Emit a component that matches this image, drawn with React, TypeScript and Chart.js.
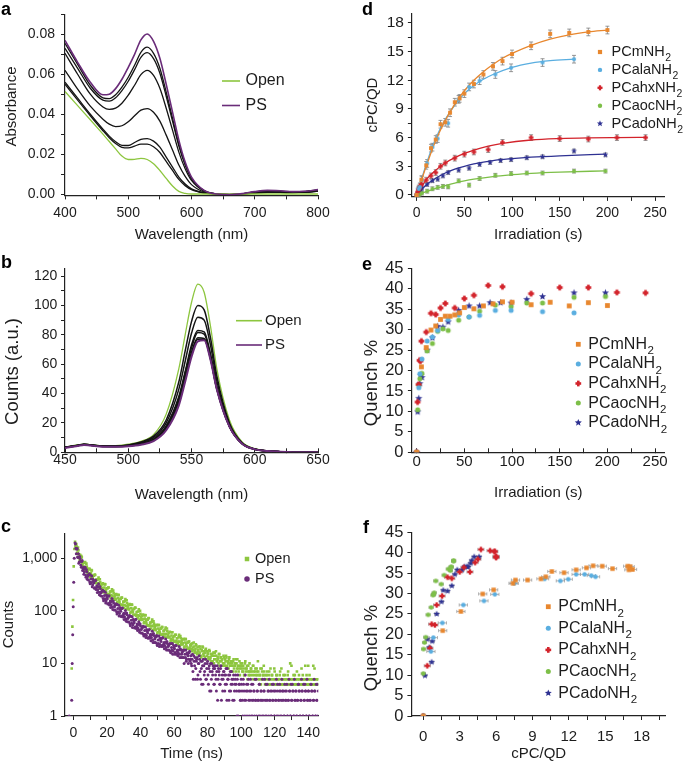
import React, { useEffect, useRef } from 'react';
import { Chart, registerables } from 'chart.js';

Chart.register(...registerables);

const FONT = "'Liberation Sans', Arial, Helvetica, sans-serif";
const TEXT = '#1c1c1c';
const AXIS = '#222222';
const GREEN = '#8dc63f';
const PURPLE = '#6a2c79';
const BLACK = '#141414';
const C_M = '#e8872e';
const C_ALA = '#5aaee0';
const C_AHX = '#d3232b';
const C_AOC = '#7dbf48';
const C_ADO = '#2e3192';
const ERR_GREY = 'rgba(120,120,120,0.85)';

// ---------- panel a : absorbance ----------
const absWavelengths = [400, 420, 440, 460, 470, 480, 490, 500, 510, 520, 530, 540, 550, 560, 570, 580, 590, 600, 620, 640, 660, 680, 700, 720, 740, 760, 780, 800];
const absOpen = [0.0514, 0.0443, 0.0372, 0.03, 0.0263, 0.0226, 0.019, 0.0173, 0.0174, 0.0179, 0.0173, 0.0152, 0.0118, 0.0078, 0.004, 0.0013, 0.0003, 0, 0, 0, 0, 0, 0, 0, 0, 0, 0, 0];
const absPS = [0.077, 0.066, 0.056, 0.0497, 0.05, 0.0528, 0.0575, 0.0635, 0.07, 0.0772, 0.0802, 0.0765, 0.068, 0.055, 0.041, 0.027, 0.016, 0.0085, 0.0018, 0, -0.0003, 0.0002, 0.0012, 0.0018, 0.0016, 0.0012, 0.0014, 0.0022];
const absStep1 = [0.0755, 0.065, 0.0545, 0.0482, 0.0478, 0.0497, 0.0535, 0.0585, 0.0645, 0.071, 0.0736, 0.0705, 0.063, 0.051, 0.038, 0.025, 0.015, 0.008, 0.0017, 0, -0.0003, 0.0001, 0.001, 0.0015, 0.0014, 0.0011, 0.0013, 0.002];
const absStep2 = [0.073, 0.063, 0.053, 0.047, 0.0465, 0.0482, 0.0518, 0.0565, 0.0623, 0.0685, 0.0708, 0.0678, 0.0605, 0.049, 0.0365, 0.024, 0.0145, 0.0077, 0.0016, 0, -0.0003, 0.0001, 0.0009, 0.0014, 0.0013, 0.001, 0.0012, 0.0019];
const absStep3 = [0.0705, 0.06, 0.05, 0.0436, 0.0424, 0.043, 0.0455, 0.0495, 0.0545, 0.0598, 0.062, 0.0595, 0.053, 0.043, 0.032, 0.021, 0.0127, 0.0068, 0.0014, 0, -0.0003, 0, 0.0008, 0.0012, 0.0011, 0.0009, 0.0011, 0.0017];
const absStep4 = [0.062, 0.0525, 0.044, 0.0375, 0.035, 0.0338, 0.0342, 0.0362, 0.0392, 0.042, 0.0428, 0.041, 0.0365, 0.0295, 0.022, 0.0145, 0.0088, 0.0047, 0.001, 0, -0.0003, 0, 0.0006, 0.001, 0.0009, 0.0008, 0.001, 0.0015];
const absStep5 = [0.056, 0.048, 0.04, 0.0325, 0.029, 0.0262, 0.0244, 0.0243, 0.0258, 0.0274, 0.0278, 0.0265, 0.0235, 0.0185, 0.0135, 0.0085, 0.005, 0.0026, 0.0006, 0, -0.0003, 0, 0.0005, 0.0008, 0.0008, 0.0007, 0.0009, 0.0014];
const absStep6 = [0.055, 0.047, 0.0392, 0.0317, 0.0282, 0.0253, 0.0234, 0.0231, 0.024, 0.025, 0.025, 0.0237, 0.0208, 0.0163, 0.0118, 0.0073, 0.0042, 0.0022, 0.0005, 0, -0.0003, 0, 0.0005, 0.0008, 0.0008, 0.0007, 0.0009, 0.0014];

// ---------- panel b : emission ----------
const emWavelengths = [450, 460, 465, 470, 480, 490, 500, 510, 520, 530, 540, 545, 550, 555, 560, 565, 570, 580, 590, 600, 610, 620, 630, 650];
const emOpen = [3.5, 5.0, 5.6, 5.2, 4.5, 4.6, 5.5, 7.5, 12, 26, 57, 80, 102, 114.5, 109, 86, 57, 22, 7, 2.5, 1.0, 0.4, 0.1, 0];
const emStep1 = [3.5, 4.8, 5.5, 5.1, 4.3, 4.3, 5.0, 7.0, 11, 22, 48, 69, 89, 100, 97, 78, 52, 20, 6.5, 2.3, 1.0, 0.4, 0.1, 0];
const emStep2 = [3.4, 4.7, 5.4, 5.0, 4.2, 4.2, 4.8, 6.5, 10, 20, 43, 62, 81, 92, 90, 73, 49, 19, 6.2, 2.2, 0.9, 0.4, 0.1, 0];
const emStep3 = [3.3, 4.6, 5.3, 4.9, 4.1, 4.1, 4.6, 6.0, 9, 18, 38, 55, 73, 83, 82, 67, 45, 18, 6.0, 2.1, 0.9, 0.4, 0.1, 0];
const emStep4 = [3.3, 4.6, 5.3, 4.9, 4.1, 4.0, 4.5, 5.9, 8.8, 17.5, 37, 54, 71, 81.5, 80.5, 66, 44.5, 17.8, 5.9, 2.1, 0.9, 0.4, 0.1, 0];
const emStep5 = [3.2, 4.5, 5.2, 4.8, 4.0, 3.9, 4.4, 5.6, 8.2, 16.5, 35, 51, 68, 78, 77.5, 64, 43, 17.5, 5.8, 2.0, 0.9, 0.4, 0.1, 0];
const emStep6 = [3.2, 4.5, 5.2, 4.8, 4.0, 3.9, 4.3, 5.5, 8.0, 16, 34, 50, 67, 77, 77, 63.5, 43, 17.5, 5.8, 2.0, 0.9, 0.4, 0.1, 0];
const emPS = [3.0, 4.3, 5.0, 4.6, 3.8, 3.7, 4.1, 5.2, 7.6, 15, 32, 48, 65, 75.5, 76.3, 63, 43, 17.5, 5.8, 2.0, 0.9, 0.4, 0.1, 0];

// ---------- panel c : lifetime decay (counts per channel, two interleaved channel sets) ----------
const tcspcStep = 0.5;
const decayStartA = 1;
const tailStartA = 70.5;
const decayStartB = 1.25;
const tailStartB = 70.25;
const openRiseTimes = [-1, -0.6, -0.2, 0.2, 0.6];
const openRise = [8, 50, 160, 700, 1500];
const psRiseTimes = [-2.5, -1, -0.7, -0.4, -0.1, 0.2, 0.5];
const psRise = [1, 2, 10, 35, 120, 350, 1000];
const openDecayA = [
  2050, 1610, 1670, 1260, 1420, 1020, 1165, 880, 1035, 727,
  830, 693, 840, 565, 693, 570, 506, 638, 435, 521,
  582, 416, 471, 355, 480, 336, 394, 336, 430, 273,
  352, 301, 264, 333, 224, 277, 318, 231, 268, 203,
  277, 195, 231, 199, 257, 165, 215, 184, 163, 207,
  140, 174, 199, 146, 169, 129, 177, 126, 150, 129,
  167, 107, 141, 120, 106, 135, 91, 113, 130, 95,
  109, 83, 114, 81, 96, 82, 107, 68, 88, 76,
  67, 85, 58, 71, 82, 59, 68, 52, 72, 51,
  60, 52, 68, 43, 57, 48, 43, 54, 37, 46,
  53, 39, 46, 35, 49, 35, 42, 36, 48, 31,
  41, 35, 31, 40, 27, 34, 39, 28, 33, 26,
  35, 25, 30, 26, 35, 22, 30, 26, 23, 29,
  20, 25, 29, 21, 25, 19, 26, 19, 23,
];
const openDecayB = [
  1700, 1860, 1270, 1600, 1180, 920, 1100, 1100, 776, 834,
  614, 809, 641, 790, 535, 617, 517, 610, 445, 594,
  459, 374, 465, 486, 355, 391, 294, 396, 320, 398,
  274, 320, 271, 322, 237, 322, 253, 210, 266, 278,
  206, 227, 174, 235, 192, 242, 167, 196, 167, 200,
  149, 202, 159, 133, 168, 178, 132, 148, 113, 153,
  125, 159, 110, 128, 109, 130, 96, 131, 103, 85,
  108, 115, 85, 94, 72, 97, 79, 100, 69, 81,
  69, 82, 61, 83, 65, 54, 68, 73, 53, 59,
  46, 62, 51, 63, 44, 51, 44, 53, 39, 54,
  43, 36, 46, 49, 36, 41, 32, 44, 36, 46,
  32, 38, 32, 39, 29, 39, 31, 26, 33, 35,
  27, 30, 23, 32, 26, 33, 23, 28, 24, 29,
  21, 29, 23, 19, 25, 26, 20, 22,
];
const openTailA = [
  19, 24, 18, 21, 17, 23, 16, 20, 17, 15,
  21, 14, 18, 21, 15, 17, 13, 19, 14, 16,
  13, 18, 12, 15, 14, 11, 16, 12, 14, 17,
  11, 13, 10, 15, 11, 13, 12, 9, 14, 10,
  12, 14, 9, 11, 8, 13, 10, 11, 9, 7,
  12, 9, 10, 12, 8, 9, 7, 11, 8, 9,
  10, 7, 8, 6, 11, 8, 9, 7, 6, 10,
  7, 8, 6, 9, 7, 5, 8, 6, 7, 11,
  5, 6, 8, 5, 7, 6, 9, 5, 6, 4,
  7, 5, 6, 4, 8, 5, 6, 4, 5, 7,
  4, 6, 5, 4, 5, 6, 4, 8, 5, 4,
  5, 6, 4, 5, 4, 7, 5, 4, 5, 9,
  4, 5, 4, 6, 5, 4, 5, 4, 6, 5,
  4, 8, 5, 4, 5, 4, 5, 6, 4, 9,
  5, 4, 5, 4, 5, 9, 4, 5, 4, 5,
  4, 5,
];
const openTailB = [
  22, 17, 20, 25, 16, 19, 22, 15, 18, 21,
  16, 19, 13, 17, 20, 14, 16, 18, 12, 17,
  15, 12, 17, 13, 11, 15, 14, 10, 16, 12,
  14, 11, 12, 15, 9, 13, 11, 12, 10, 13,
  9, 11, 13, 8, 10, 12, 9, 11, 7, 10,
  11, 8, 9, 7, 10, 12, 8, 9, 6, 10,
  8, 7, 9, 6, 10, 7, 8, 5, 9, 7,
  6, 8, 7, 5, 9, 6, 7, 5, 8, 6,
  7, 5, 6, 4, 8, 5, 6, 7, 4, 5,
  6, 4, 5, 7, 4, 5, 6, 4, 5, 8,
  5, 4, 6, 5, 4, 5, 7, 4, 5, 4,
  6, 5, 4, 5, 4, 6, 5, 4, 10, 5,
  4, 5, 6, 4, 5, 4, 7, 5, 4, 5,
  4, 5, 4, 6, 5, 4, 9, 5, 4, 5,
  4, 6, 5, 4, 5, 4, 5, 8, 4, 5,
  4, 5,
];
const psDecayA = [
  1950, 1550, 1485, 1056, 1210, 843, 990, 738, 862, 584,
  672, 552, 672, 435, 550, 451, 383, 507, 328, 404,
  458, 314, 364, 267, 374, 253, 299, 251, 328, 201,
  264, 221, 189, 246, 156, 196, 226, 156, 184, 134,
  190, 129, 154, 131, 171, 106, 141, 119, 103, 136,
  87, 111, 128, 89, 106, 78, 110, 76, 90, 77,
  101, 63, 84, 71, 61, 81, 52, 66, 77, 54,
  64, 47, 67, 46, 56, 47, 62, 39, 52, 44,
  38, 51, 33, 42, 49, 34, 41, 30, 43, 30,
  36, 31, 41, 25, 34, 29, 25, 34, 22, 28,
  33, 23, 28, 21, 30, 21, 25, 22, 29, 18,
  24, 21, 18, 24, 16, 20, 24, 17, 20, 15,
  22, 15, 18, 16, 21, 13, 18, 15, 13, 18,
  10, 15, 18, 12, 15, 10, 16, 11, 14,
];
const psDecayB = [
  1870, 1218, 1530, 1026, 803, 1081, 877, 675, 903, 635,
  496, 626, 480, 608, 400, 480, 484, 353, 481, 345,
  285, 400, 340, 274, 381, 276, 223, 288, 225, 289,
  193, 234, 237, 172, 235, 169, 141, 199, 170, 138,
  194, 142, 115, 150, 118, 153, 103, 127, 130, 96,
  132, 96, 80, 115, 98, 80, 113, 83, 68, 89,
  70, 91, 62, 75, 77, 57, 79, 58, 48, 69,
  59, 49, 69, 51, 42, 55, 43, 57, 38, 47,
  48, 36, 50, 36, 31, 44, 38, 31, 44, 33,
  27, 35, 28, 37, 25, 31, 32, 24, 33, 24,
  21, 30, 26, 22, 31, 23, 19, 25, 20, 26,
  18, 22, 23, 17, 24, 18, 15, 22, 19, 16,
  22, 17, 14, 18, 15, 19, 13, 16, 17, 13,
  18, 13, 11, 16, 14, 12, 17, 12,
];
const psTailA = [
  9, 15, 5, 11, 13, 8, 12, 5, 10, 14,
  7, 11, 4, 9, 12, 6, 10, 5, 8, 11,
  4, 9, 7, 3, 10, 6, 8, 4, 9, 5,
  7, 2, 8, 6, 4, 9, 5, 3, 7, 6,
  4, 8, 2, 5, 6, 3, 7, 4, 5, 2,
  6, 3, 5, 4, 1, 6, 3, 4, 2, 5,
  3, 1, 4, 2, 6, 3, 1, 4, 2, 3,
  5, 1, 2, 4, 3, 1, 2, 5, 3, 2,
  1, 4, 2, 3, 1, 2, 3, 5, 1, 2,
  4, 3, 1, 2, 3, 1, 4, 2, 3, 1,
  2, 5, 3, 1, 2, 4, 3, 1, 2, 3,
  1, 4, 2, 3, 1, 2, 5, 3, 1, 2,
  4, 3, 1, 2, 3, 1, 2, 4, 3, 1,
  2, 5, 3, 1, 2, 4, 3, 1, 2, 3,
  1, 2, 4, 3, 1, 2, 5, 3, 1, 2,
  4, 3,
];
const psTailB = [
  10, 12, 7, 14, 9, 5, 11, 13, 6, 10,
  12, 5, 8, 11, 4, 9, 7, 12, 5, 10,
  6, 8, 3, 10, 5, 7, 9, 4, 8, 6,
  3, 9, 5, 7, 4, 8, 2, 6, 5, 7,
  3, 6, 4, 8, 5, 2, 6, 3, 7, 4,
  5, 2, 4, 6, 3, 5, 1, 4, 3, 2,
  4, 2, 5, 3, 1, 2, 4, 3, 5, 1,
  2, 3, 4, 1, 2, 3, 5, 2, 1, 3,
  2, 4, 1, 3, 2, 5, 1, 3, 2, 4,
  1, 2, 3, 5, 2, 1, 3, 2, 4, 1,
  3, 2, 1, 4, 2, 3, 1, 2, 5, 3,
  2, 1, 3, 2, 4, 1, 2, 3, 1, 4,
  2, 3, 1, 5, 2, 3, 1, 2, 4, 3,
  1, 2, 3, 1, 4, 2, 3, 1, 5, 2,
  3, 1, 2, 4, 3, 1, 2, 3, 1, 4,
  2, 1,
];
const countsTicks = [1, 10, 100, 1000];

// ---------- panels d, e, f : peptide series ----------
const mTimes = [0, 5, 10, 15, 20, 25, 30, 35, 40, 45, 50, 60, 70, 80, 90, 100, 120, 140, 160, 180, 200];
const mCpc = [0, 1.6, 3.1, 4.9, 5.8, 7.4, 7.6, 8.6, 9.7, 10.1, 10.6, 11.6, 12.6, 13.45, 14.0, 14.75, 15.6, 16.85, 16.95, 17.05, 17.25];
const mQuench = [0, 20.9, 25.6, 29.9, 30.9, 32.5, 33.3, 33.3, 33.6, 34.1, 35.4, 35.1, 35.8, 36.3, 36.8, 36.7, 36.1, 36.7, 35.8, 36.6, 35.9];
const mFitTimes = [0, 10, 20, 30, 40, 50, 60, 70, 80, 90, 100, 120, 140, 160, 180, 200];
const mFit = [0, 3.0, 5.7, 7.8, 9.5, 10.9, 12.0, 12.9, 13.65, 14.3, 14.8, 15.65, 16.3, 16.75, 17.05, 17.25];
const mErrCpc = 0.4;

const alaTimes = [0, 2.2, 3.3, 5.5, 11, 16.5, 22, 33, 44, 55, 66, 82.5, 99, 132, 165];
const alaCpc = [0, 0.63, 0.83, 1.57, 3.3, 5.0, 5.9, 7.5, 10.0, 11.3, 11.95, 12.6, 13.3, 13.85, 14.2];
const alaQuench = [0, 15.8, 19.2, 22.8, 27.2, 28.2, 29.8, 32.5, 33.6, 33.1, 33.5, 34.7, 34.7, 34.4, 34.1];
const alaFitTimes = [0, 10, 20, 30, 40, 50, 60, 70, 80, 100, 120, 140, 165];
const alaFit = [0, 3.2, 5.9, 7.9, 9.4, 10.6, 11.45, 12.1, 12.6, 13.35, 13.8, 14.05, 14.2];
const alaErrCpc = 0.4;

const ahxTimes = [0, 1, 2, 3, 4, 5, 10, 15, 20, 25, 30, 40, 50, 60, 75, 90, 120, 150, 180, 210, 240];
const ahxCpc = [0, 0.33, 0.55, 0.69, 0.96, 1.1, 1.55, 2.0, 2.35, 3.0, 3.35, 3.85, 4.27, 4.5, 4.75, 5.5, 6.0, 5.9, 5.85, 6.0, 6.0];
const ahxQuench = [0, 12.3, 16.6, 22.5, 22.3, 27.2, 29.4, 34.0, 33.7, 35.3, 36.4, 35.3, 37.6, 38.4, 40.8, 40.5, 38.8, 40.3, 40.3, 39.1, 39.0];
const ahxFitTimes = [0, 10, 20, 30, 40, 50, 60, 75, 90, 120, 150, 180, 210, 240];
const ahxFit = [0, 1.6, 2.6, 3.35, 3.9, 4.35, 4.7, 5.1, 5.4, 5.75, 5.9, 5.97, 6.0, 6.02];
const ahxErrCpc = 0.3;

const aocTimes = [0, 1.1, 2.2, 3.3, 5.5, 11, 16.5, 22, 27.5, 33, 44, 55, 66, 82.5, 99, 115.5, 132, 165, 198];
const aocCpc = [0, 0.0, 0.02, 0.1, 0.2, 0.4, 0.65, 0.8, 0.9, 0.85, 1.48, 1.03, 1.72, 2.06, 2.24, 2.3, 2.3, 2.5, 2.5];
const aocQuench = [0, 10.4, 16.4, 18.0, 19.3, 24.8, 26.6, 29.6, 30.2, 29.8, 32.3, 33.1, 34.5, 36.0, 35.6, 36.5, 36.5, 37.9, 38.1];
const aocFitTimes = [0, 10, 20, 30, 40, 50, 60, 80, 100, 120, 150, 198];
const aocFit = [0, 0.35, 0.68, 0.98, 1.25, 1.47, 1.65, 1.93, 2.12, 2.27, 2.4, 2.52];
const aocErrCpc = 0.2;

const adoTimes = [0, 1.1, 2.2, 3.3, 4.4, 5.5, 11, 16.5, 22, 27.5, 33, 44, 55, 66, 77, 88, 99, 115.5, 132, 165, 198];
const adoCpc = [0, 0.14, 0.69, 0.5, 0.33, 0.74, 1.1, 1.5, 1.65, 2.0, 2.35, 2.6, 2.8, 3.2, 3.4, 3.6, 3.7, 3.9, 4.0, 4.6, 4.2];
const adoQuench = [0, 9.9, 13.2, 16.8, 18.8, 18.3, 25.0, 28.0, 30.8, 30.6, 31.9, 34.7, 35.8, 35.8, 36.6, 36.6, 36.5, 37.4, 38.1, 39.0, 39.0];
const adoFitTimes = [0, 10, 20, 30, 40, 50, 60, 80, 100, 120, 150, 198];
const adoFit = [0, 1.05, 1.75, 2.3, 2.7, 3.0, 3.25, 3.6, 3.8, 3.95, 4.1, 4.27];
const adoErrCpc = 0.2;

const seriesNames = ['PCmNH', 'PCalaNH', 'PCahxNH', 'PCaocNH', 'PCadoNH'];

// ---------- helpers ----------
const pairs = (xs: number[], ys: number[]) => ys.map((y, i) => ({ x: xs[i], y }));
const channels = (start: number, ys: number[]) => ys.map((y, i) => ({ x: start + i * tcspcStep, y }));
const isMult = (v: number, m: number) => { const r = v / m; return Math.abs(r - Math.round(r)) < 1e-6; };

function drawMarker(ctx: CanvasRenderingContext2D, kind: string, color: string, cx: number, cy: number, s: number) {
  ctx.fillStyle = color;
  if (kind === 'rect') {
    ctx.fillRect(cx - s / 2, cy - s / 2, s, s);
  } else if (kind === 'circle') {
    ctx.beginPath(); ctx.arc(cx, cy, s / 2, 0, Math.PI * 2); ctx.fill();
  } else if (kind === 'plus') {
    const t = s * 0.45;
    ctx.fillRect(cx - s / 2, cy - t / 2, s, t);
    ctx.fillRect(cx - t / 2, cy - s / 2, t, s);
  } else if (kind === 'star') {
    const R = s * 0.62, r = R * 0.45;
    ctx.beginPath();
    for (let k = 0; k < 10; k++) {
      const rad = k % 2 === 0 ? R : r;
      const a = -Math.PI / 2 + (k * Math.PI) / 5;
      const px = cx + rad * Math.cos(a), py = cy + rad * Math.sin(a);
      if (k === 0) ctx.moveTo(px, py); else ctx.lineTo(px, py);
    }
    ctx.closePath(); ctx.fill();
  }
}

function markerImage(kind: string, color: string, s: number) {
  const c = document.createElement('canvas');
  const n = Math.ceil(s * 1.4) + 2;
  c.width = n; c.height = n;
  const ctx = c.getContext('2d') as CanvasRenderingContext2D;
  drawMarker(ctx, kind, color, n / 2, n / 2, s);
  return c;
}

const errorBarPlugin = {
  id: 'errorBars',
  beforeDatasetsDraw(chart: any) {
    const ctx = chart.ctx;
    chart.data.datasets.forEach((ds: any, i: number) => {
      if (!ds.errX && !ds.errY) return;
      const meta = chart.getDatasetMeta(i);
      ctx.save();
      ctx.strokeStyle = ds.errColor || ERR_GREY;
      ctx.lineWidth = 0.9;
      const cap = ds.errCap || 2;
      ds.data.forEach((p: any, j: number) => {
        if (p.x === 0 && p.y === 0) return;
        const el = meta.data[j];
        if (!el) return;
        ctx.beginPath();
        if (ds.errY) {
          const y1 = chart.scales.y.getPixelForValue(p.y - ds.errY);
          const y2 = chart.scales.y.getPixelForValue(p.y + ds.errY);
          ctx.moveTo(el.x, y1); ctx.lineTo(el.x, y2);
          ctx.moveTo(el.x - cap, y1); ctx.lineTo(el.x + cap, y1);
          ctx.moveTo(el.x - cap, y2); ctx.lineTo(el.x + cap, y2);
        }
        if (ds.errX) {
          const x1 = chart.scales.x.getPixelForValue(p.x - ds.errX);
          const x2 = chart.scales.x.getPixelForValue(p.x + ds.errX);
          ctx.moveTo(x1, el.y); ctx.lineTo(x2, el.y);
          ctx.moveTo(x1, el.y - cap); ctx.lineTo(x1, el.y + cap);
          ctx.moveTo(x2, el.y - cap); ctx.lineTo(x2, el.y + cap);
        }
        ctx.stroke();
      });
      ctx.restore();
    });
  },
};

// legend entries plus free-standing (rotated) axis titles
function legendPlugin(items: any[]) {
  return {
    id: 'panelLegend',
    afterDatasetsDraw(chart: any) {
      const ctx = chart.ctx as CanvasRenderingContext2D;
      ctx.save();
      for (const it of items) {
        if (it.kind === 'vtext') {
          ctx.save();
          ctx.translate(it.x, it.y);
          ctx.rotate(-Math.PI / 2);
          ctx.fillStyle = TEXT;
          ctx.textAlign = 'center';
          ctx.textBaseline = 'middle';
          ctx.font = `${it.font}px ${FONT}`;
          ctx.fillText(it.text, 0, 0);
          ctx.restore();
          continue;
        }
        if (it.kind === 'line') {
          ctx.strokeStyle = it.color; ctx.lineWidth = it.lw || 1.6;
          ctx.beginPath(); ctx.moveTo(it.x, it.y); ctx.lineTo(it.x2, it.y); ctx.stroke();
        } else {
          drawMarker(ctx, it.kind, it.color, it.x, it.y, it.size);
        }
        ctx.fillStyle = TEXT;
        ctx.textBaseline = 'middle';
        ctx.textAlign = 'left';
        ctx.font = `${it.font}px ${FONT}`;
        ctx.fillText(it.text, it.tx, it.y);
        if (it.sub) {
          const w = ctx.measureText(it.text).width;
          ctx.font = `${it.font * 0.72}px ${FONT}`;
          ctx.fillText(it.sub, it.tx + w + 0.5, it.y + it.font * 0.42);
        }
      }
      ctx.restore();
    },
  };
}

function axis(o: any) {
  const horizontal = !!o.horizontal;
  const cfg: any = {
    type: o.type || 'linear',
    position: horizontal ? 'bottom' : 'left',
    min: o.min,
    max: o.max,
    afterFit: (s: any) => { if (horizontal) s.height = o.size; else s.width = o.size; },
    grid: { display: true, drawOnChartArea: false, drawTicks: true, tickLength: o.tickLen ?? 4, color: AXIS, lineWidth: 1 },
    border: { display: true, color: AXIS, width: 1.2 },
    ticks: {
      autoSkip: false, maxRotation: 0, minRotation: 0, includeBounds: false,
      padding: o.tickPad ?? 4, color: TEXT, font: { family: FONT, size: o.tickFont || 14 },
      callback: o.format || ((v: number) => (isMult(v, o.major) ? String(Math.round(v * 1000) / 1000) : '')),
    },
    title: {
      display: !!o.title, text: o.title || '', color: TEXT, font: { family: FONT, size: o.titleFont || 15 },
      padding: horizontal ? { top: 0, bottom: o.titlePad || 0 } : { top: o.titlePad || 0, bottom: 0 },
    },
  };
  if (o.step) cfg.ticks.stepSize = o.step;
  if (o.fixedTicks) cfg.afterBuildTicks = (s: any) => { s.ticks = o.fixedTicks.map((v: number) => ({ value: v })); };
  return cfg;
}

function lineSet(xs: number[], ys: number[], color: string, width: number) {
  return { data: pairs(xs, ys), showLine: true, borderColor: color, borderWidth: width, pointRadius: 0, fill: false, cubicInterpolationMode: 'monotone' };
}

function pointSet(data: any[], img: any, extra: any = {}) {
  return { data, showLine: false, pointStyle: img, pointRadius: 3, borderWidth: 0, ...extra };
}

function build(canvas: HTMLCanvasElement, p: any) {
  return new Chart(canvas, {
    type: 'scatter',
    data: { datasets: p.datasets },
    options: {
      responsive: false,
      animation: false,
      devicePixelRatio: 1,
      events: [],
      layout: { padding: { left: 0, top: p.padTop, right: p.padRight, bottom: 0 } },
      plugins: { legend: { display: false }, tooltip: { enabled: false } },
      scales: { x: p.x, y: p.y },
    } as any,
    plugins: [errorBarPlugin, legendPlugin(p.legend)] as any,
  });
}

const PANELS = [
  { left: 0, top: 0, w: 340, h: 246 },
  { left: 0, top: 250, w: 340, h: 255 },
  { left: 0, top: 505, w: 340, h: 258 },
  { left: 345, top: 0, w: 340, h: 246 },
  { left: 345, top: 250, w: 340, h: 253 },
  { left: 345, top: 505, w: 340, h: 258 },
];

const LETTERS = [
  { t: 'a', left: 1, top: 0 },
  { t: 'b', left: 1, top: 253 },
  { t: 'c', left: 1, top: 517 },
  { t: 'd', left: 362, top: 0 },
  { t: 'e', left: 362, top: 255 },
  { t: 'f', left: 363, top: 518 },
];

export default function App() {
  const refs = useRef<(HTMLCanvasElement | null)[]>([]);

  useEffect(() => {
    const charts: Chart[] = [];
    const c = refs.current;

    const kinds = ['rect', 'circle', 'plus', 'circle', 'star'];
    const colors = [C_M, C_ALA, C_AHX, C_AOC, C_ADO];
    const sizeScale = [1, 1.05, 1.2, 1.05, 1.25];
    const imgs = (s: number) => kinds.map((k, i) => markerImage(k, colors[i], s * sizeScale[i]));
    const imgD = imgs(3.9);
    const imgE = imgs(4.8);
    const imgF = imgs(4.4);

    const times = [mTimes, alaTimes, ahxTimes, aocTimes, adoTimes];
    const cpcs = [mCpc, alaCpc, ahxCpc, aocCpc, adoCpc];
    const quenches = [mQuench, alaQuench, ahxQuench, aocQuench, adoQuench];
    const fitTimes = [mFitTimes, alaFitTimes, ahxFitTimes, aocFitTimes, adoFitTimes];
    const fits = [mFit, alaFit, ahxFit, aocFit, adoFit];
    const errs = [mErrCpc, alaErrCpc, ahxErrCpc, aocErrCpc, adoErrCpc];

    const peptideLegend = (mx: number, tx: number, y0: number, dy: number, font: number, size: number) =>
      seriesNames.map((n, i) => ({ kind: kinds[i], color: colors[i], x: mx, y: y0 + i * dy, size: size * sizeScale[i], text: n, sub: '2', tx, font }));

    // a
    charts.push(build(c[0]!, {
      padTop: 11.75, padRight: 22,
      datasets: [
        lineSet(absWavelengths, absPS, PURPLE, 1.6),
        lineSet(absWavelengths, absOpen, GREEN, 1.3),
        lineSet(absWavelengths, absStep1, BLACK, 1.3),
        lineSet(absWavelengths, absStep2, BLACK, 1.3),
        lineSet(absWavelengths, absStep3, BLACK, 1.3),
        lineSet(absWavelengths, absStep4, BLACK, 1.3),
        lineSet(absWavelengths, absStep5, BLACK, 1.3),
        lineSet(absWavelengths, absStep6, BLACK, 1.3),
      ],
      x: axis({ horizontal: true, min: 400, max: 800, step: 50, major: 100, size: 50.6, tickPad: 5, title: 'Wavelength (nm)', titlePad: 2 }),
      y: axis({ min: -0.0007, max: 0.09, step: 0.01, major: 0.02, size: 65, tickPad: 6,
        format: (v: number) => (isMult(v, 0.02) ? Math.abs(v).toFixed(2) : '') }),
      legend: [
        { kind: 'vtext', text: 'Absorbance', x: 12, y: 106.5, font: 15 },
        { kind: 'line', color: GREEN, x: 222, x2: 240, y: 81, text: 'Open', tx: 245.5, font: 16 },
        { kind: 'line', color: PURPLE, x: 222, x2: 240, y: 105.5, text: 'PS', tx: 245.5, font: 16 },
      ],
    }));

    // b
    charts.push(build(c[1]!, {
      padTop: 18.7, padRight: 22,
      datasets: [
        lineSet(emWavelengths, emPS, PURPLE, 2),
        lineSet(emWavelengths, emStep6, BLACK, 1.5),
        lineSet(emWavelengths, emStep5, BLACK, 1.5),
        lineSet(emWavelengths, emStep4, BLACK, 1.5),
        lineSet(emWavelengths, emStep3, BLACK, 1.5),
        lineSet(emWavelengths, emStep2, BLACK, 1.5),
        lineSet(emWavelengths, emStep1, BLACK, 1.5),
        lineSet(emWavelengths, emOpen, GREEN, 1.3),
      ],
      x: axis({ horizontal: true, min: 450, max: 650, step: 25, major: 50, size: 52.7, tickLen: -4, tickPad: 3.3, title: 'Wavelength (nm)', titlePad: 1 }),
      y: axis({ min: 0, max: 125, step: 10, major: 20, size: 65, tickPad: 3.7 }),
      legend: [
        { kind: 'vtext', text: 'Counts (a.u.)', x: 12.7, y: 121.5, font: 18.5 },
        { kind: 'line', color: GREEN, x: 236, x2: 262, y: 70.7, text: 'Open', tx: 265, font: 15 },
        { kind: 'line', color: PURPLE, x: 236, x2: 262, y: 95, text: 'PS', tx: 265, font: 15 },
      ],
    }));

    // c
    const psPts = { showLine: false, pointStyle: 'circle', pointRadius: 1.5, borderWidth: 0, backgroundColor: PURPLE };
    const openPts = { showLine: false, pointStyle: 'rect', pointRadius: 1.85, borderWidth: 0, backgroundColor: GREEN };
    charts.push(build(c[2]!, {
      padTop: 28.1, padRight: 21.7,
      datasets: [
        { ...psPts, data: [...pairs(psRiseTimes, psRise), ...channels(decayStartA, psDecayA), ...channels(tailStartA, psTailA)] },
        { ...psPts, data: [...channels(decayStartB, psDecayB), ...channels(tailStartB, psTailB)] },
        { ...openPts, data: [...pairs(openRiseTimes, openRise), ...channels(decayStartA, openDecayA), ...channels(tailStartA, openTailA)] },
        { ...openPts, data: [...channels(decayStartB, openDecayB), ...channels(tailStartB, openTailB)] },
      ],
      x: axis({ horizontal: true, min: -5, max: 146, step: 10, major: 20, size: 47, tickPad: 4.9, title: 'Time (ns)', titlePad: 0 }),
      y: axis({ type: 'logarithmic', min: 1, max: 3000, fixedTicks: countsTicks, size: 65, tickPad: 3.7, title: 'Counts', titlePad: 0,
        format: (v: number) => (v === 1000 ? '1,000' : String(v)) }),
      legend: [
        { kind: 'rect', color: GREEN, x: 247, y: 54, size: 4.5, text: 'Open', tx: 255, font: 14.5 },
        { kind: 'circle', color: PURPLE, x: 247, y: 74, size: 5.5, text: 'PS', tx: 255, font: 14.5 },
      ],
    }));

    // d
    const dSets: any[] = [];
    for (let i = 0; i < 5; i++) {
      dSets.push(pointSet(pairs(times[i], cpcs[i]), imgD[i], { errY: errs[i], errCap: 2 }));
    }
    for (let i = 0; i < 5; i++) dSets.push(lineSet(fitTimes[i], fits[i], colors[i], 1.3));
    charts.push(build(c[3]!, {
      padTop: 11, padRight: 20.4,
      datasets: dSets,
      x: axis({ horizontal: true, min: -5, max: 260, step: 25, major: 50, size: 49.1, tickPad: 3.7, title: 'Irradiation (s)', titlePad: 2 }),
      y: axis({ min: -0.2, max: 19, step: 1.5, major: 3, size: 66.9, tickPad: 4, tickFont: 15.5, title: 'cPC/QD', titlePad: 19.3 }),
      legend: peptideLegend(255, 266.5, 52, 17.9, 14.5, 4.2),
    }));

    // e
    const eSets = [0, 1, 2, 3, 4].map((i) => pointSet(pairs(times[i], quenches[i]), imgE[i]));
    charts.push(build(c[4]!, {
      padTop: 18.3, padRight: 20.4,
      datasets: eSets,
      x: axis({ horizontal: true, min: -5, max: 260, step: 25, major: 50, size: 50.7, tickLen: -4, tickPad: 4.4, tickFont: 15, title: 'Irradiation (s)', titlePad: 0.7 }),
      y: axis({ min: 0, max: 45, step: 5, major: 5, size: 66.9, tickPad: 4.4, tickFont: 16.5 }),
      legend: [
        { kind: 'vtext', text: 'Quench %', x: 26.7, y: 133, font: 18.5 },
        ...peptideLegend(233.3, 243.3, 94.3, 19.6, 16, 4.8),
      ],
    }));

    // f
    const fSets = [0, 1, 2, 3, 4].map((i) =>
      pointSet(pairs(cpcs[i], quenches[i]), imgF[i], { errX: errs[i] * 0.85, errCap: 1.6, errColor: 'rgba(150,150,150,0.8)' }));
    charts.push(build(c[5]!, {
      padTop: 27.3, padRight: 19.1,
      datasets: fSets,
      x: axis({ horizontal: true, min: -0.98, max: 20, step: 1.5, major: 3, size: 47, tickPad: 7.7, tickFont: 15, title: 'cPC/QD', titlePad: 0 }),
      y: axis({ min: 0, max: 45, step: 5, major: 5, size: 66.4, tickPad: 4, tickFont: 16.5 }),
      legend: [
        { kind: 'vtext', text: 'Quench %', x: 26.7, y: 143, font: 18.5 },
        ...peptideLegend(203.3, 213.3, 101.7, 21.6, 16, 4.8),
      ],
    }));

    return () => { charts.forEach((ch) => ch.destroy()); };
  }, []);

  return (
    <div style={{ position: 'absolute', left: 0, top: 0, width: 685, height: 763, background: '#fff', overflow: 'hidden' }}>
      {PANELS.map((p, i) => (
        <canvas
          key={i}
          ref={(el) => { refs.current[i] = el; }}
          width={p.w}
          height={p.h}
          style={{ position: 'absolute', left: p.left, top: p.top, width: p.w, height: p.h }}
        />
      ))}
      {LETTERS.map((l) => (
        <div key={l.t} style={{ position: 'absolute', left: l.left, top: l.top, fontFamily: FONT, fontWeight: 'bold', fontSize: 18, lineHeight: '18px', color: '#000' }}>
          {l.t}
        </div>
      ))}
    </div>
  );
}
